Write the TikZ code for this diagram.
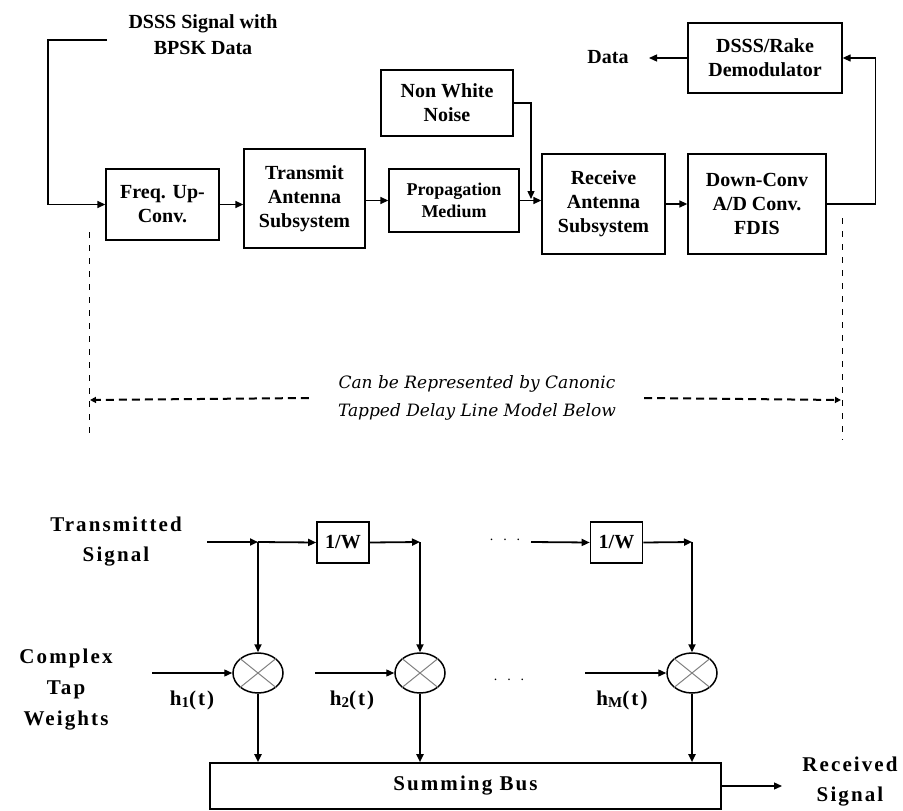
\documentclass[tikz,border=0pt]{standalone}
\usepackage{fontspec}
\setmainfont{Liberation Serif}
\newfontfamily\slabfont{DejaVu Serif}
\newfontfamily\widefont[LetterSpace=10]{Liberation Serif}
\newcommand{\tapsub}[1]{\raisebox{-2.5pt}{\fontsize{15}{15}\selectfont #1}}
\usetikzlibrary{arrows.meta,shapes.geometric}

\begin{document}
\begin{tikzpicture}[x=1pt, y=-1pt, >={Triangle[length=8pt,width=7pt]},
    blk/.style={draw, line width=1.3pt, align=center, inner sep=0pt, font=\bfseries\fontsize{20}{24}\selectfont},
    lbl/.style={align=center, inner sep=0pt, font=\bfseries\fontsize{20}{26}\selectfont},
    wlbl/.style={align=center, inner sep=0pt, font=\widefont\bfseries\fontsize{21}{30}\selectfont},
    wire/.style={line width=1.3pt},
    guide/.style={line width=1pt, dash pattern=on 6pt off 7pt},
    span/.style={line width=2pt, dash pattern=on 8pt off 5pt, >={Triangle[length=6pt,width=6pt]}},
    tap/.style={draw, line width=1.6pt, inner sep=0pt, font=\bfseries\fontsize{20}{24}\selectfont},
    bus/.style={line width=1.8pt},
    mult/.style={draw, ellipse, line width=1.5pt, minimum width=50pt, minimum height=40pt, inner sep=0pt},
    cross/.style={gray, line width=1pt}]
    \useasboundingbox (0,0) rectangle (903,811);

    % link budget chain
    \node[lbl] (sig) at (203,35) {DSSS Signal with\\BPSK Data};
    \node[blk, minimum width=113pt, minimum height=71pt] (freq) at (162.5,204.5) {Freq. Up-\\Conv.};
    \node[blk, minimum width=121pt, minimum height=99pt] (tx) at (304.5,198.5) {Transmit\\Antenna\\Subsystem};
    \node[blk, minimum width=130pt, minimum height=63pt, font=\bfseries\fontsize{18}{22}\selectfont] (prop) at (454,200.5) {Propagation\\Medium};
    \node[blk, minimum width=132pt, minimum height=66pt] (noise) at (447,103) {Non White\\Noise};
    \node[blk, minimum width=123pt, minimum height=100pt] (rx) at (603.5,204) {Receive\\Antenna\\Subsystem};
    \node[blk, minimum width=138pt, minimum height=100pt] (dc) at (757,204) {Down-Conv\\A/D Conv.\\FDIS};
    \node[blk, minimum width=154pt, minimum height=70pt] (demod) at (765,58) {DSSS/Rake\\Demodulator};
    \node[lbl] (data) at (608,57) {Data};

    \coordinate (sigin) at (107,40);
    \coordinate (nj) at (531,199);
    \coordinate (dataend) at (649,58);

    \draw[wire, ->] (sigin) -- ++(-59,0) |- (freq.west);
    \draw[wire, ->] (freq.east) -- (freq.east -| tx.west);
    \draw[wire, ->] (prop.west -| tx.east) -- (prop.west);
    \draw[wire, ->] (noise.east) -| (nj);
    \draw[wire, ->] (prop.east) -- (prop.east -| rx.west);
    \draw[wire, ->] (rx.east) -- (rx.east -| dc.west);
    \draw[wire, ->] (dc.east) -- ++(49,0) |- (demod.east);
    \draw[wire, ->] (demod.west) -- (dataend);

    % equivalence span
    \draw[guide] (89,232) -- (89,440);
    \draw[guide] (842,218) -- (842,440);
    \node[align=center, inner sep=0pt, font=\slabfont\itshape\fontsize{17}{28}\selectfont] (canon) at (477,398)
        {Can be Represented by Canonic\\Tapped Delay Line Model Below};
    \draw[span, ->] ([xshift=-29pt]canon.west) -- (90,400);
    \draw[span, ->] ([xshift=28pt]canon.east) -- (841,400);

    % tapped delay line
    \node[wlbl] (tsig) at (116,542) {Transmitted\\Signal};
    \node[wlbl, font=\widefont\bfseries\fontsize{21}{31}\selectfont] (cw) at (66,690) {Complex\\Tap\\Weights};
    \node[wlbl] (recv) at (850,782) {Received\\Signal};

    \coordinate (tin) at (207,542);
    \coordinate (j1) at (258,542);
    \coordinate (j2) at (420,542);
    \coordinate (din) at (531,542);
    \coordinate (j3) at (692,542);

    \node[tap, minimum width=52pt, minimum height=41pt] (w1) at (343,542.5) {1/W};
    \node[tap, minimum width=52pt, minimum height=41pt] (w2) at (616.5,542.5) {1/W};
    \node[inner sep=0pt, font=\fontsize{14}{14}\selectfont] (dots1) at (505,540) {.\hspace{10pt}.\hspace{10pt}.};

    \node[mult] (m1) at (258,673) {};
    \node[mult] (m2) at (420,673) {};
    \node[mult] (m3) at (692,673) {};
    \draw[cross] (m1.north east) -- (m1.south west) (m1.north west) -- (m1.south east);
    \draw[cross] (m2.north east) -- (m2.south west) (m2.north west) -- (m2.south east);
    \draw[cross] (m3.north east) -- (m3.south west) (m3.north west) -- (m3.south east);
    \node[inner sep=0pt, font=\fontsize{14}{14}\selectfont] (dots2) at (509,680) {.\hspace{10pt}.\hspace{10pt}.};

    \coordinate (h1in) at (152,673);
    \coordinate (h2in) at (315,673);
    \coordinate (h3in) at (585,673);
    \node[wlbl] (h1) at (192,700) {h\tapsub{1}(t)};
    \node[wlbl] (h2) at (352,700) {h\tapsub{2}(t)};
    \node[wlbl] (h3) at (622,700) {h\tapsub{M}(t)};

    \node[tap, minimum width=511pt, minimum height=46pt, font=\widefont\bfseries\fontsize{21}{24}\selectfont] (sum) at (465.5,786) {Summing Bus};
    \coordinate (rout) at (782,786);

    \draw[bus, ->] (tin) -- (j1);
    \draw[bus, ->] (j1) -- (w1.west);
    \draw[bus, ->] (w1.east) -- (j2);
    \draw[bus, ->] (din) -- (w2.west);
    \draw[bus, ->] (w2.east) -- (j3);
    \draw[bus, ->] (j1) -- (m1.north);
    \draw[bus, ->] (j2) -- (m2.north);
    \draw[bus, ->] (j3) -- (m3.north);
    \draw[wire, ->] (h1in) -- (m1.west);
    \draw[wire, ->] (h2in) -- (m2.west);
    \draw[wire, ->] (h3in) -- (m3.west);
    \draw[bus, ->] (m1.south) -- (m1.south |- sum.north);
    \draw[bus, ->] (m2.south) -- (m2.south |- sum.north);
    \draw[bus, ->] (m3.south) -- (m3.south |- sum.north);
    \draw[wire, ->] (sum.east) -- (rout);
\end{tikzpicture}
\end{document}
